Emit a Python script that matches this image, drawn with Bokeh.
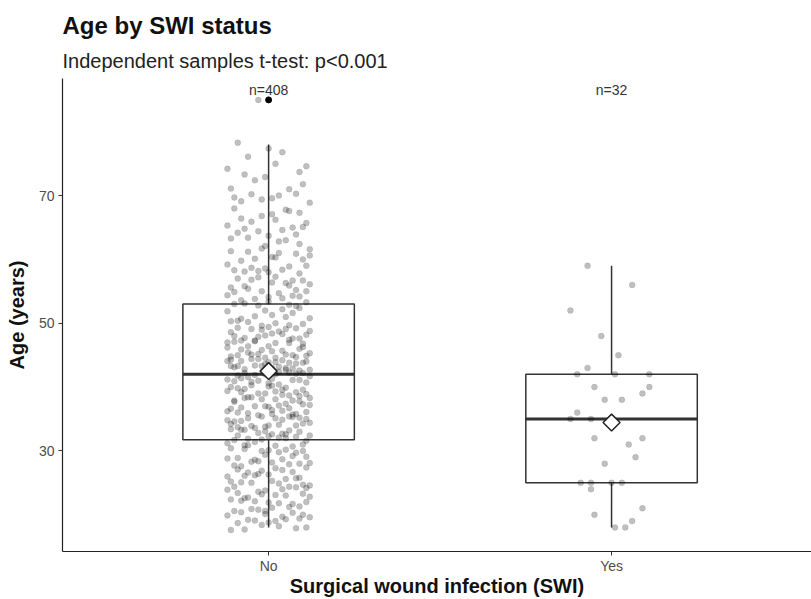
import numpy as np
from bokeh.plotting import figure
from bokeh.models import Range1d, FixedTicker, Label, Title
from bokeh.embed import file_html
from bokeh.resources import INLINE

# ---------------- data ----------------
categories = ["No", "Yes"]
group_pos = [1, 2]
y_ticks = [30, 50, 70]
title_text = "Age by SWI status"
subtitle_text = "Independent samples t-test: p<0.001"

# ages (years) of the SWI = No group
no_age = [
    18, 18, 18, 18, 18, 18,
    19, 19, 19, 19, 19, 19, 19,
    20, 20, 20, 20, 20, 20, 20,
    21, 21, 21, 21, 21, 21, 21,
    22, 22, 22, 22, 22, 22, 22,
    23, 23, 23, 23, 23, 23, 23, 23,
    24, 24, 24, 24, 24, 24, 24, 24,
    25, 25, 25, 25, 25, 25, 25,
    26, 26, 26, 26, 26, 26, 26, 26,
    27, 27, 27, 27, 27, 27, 27,
    28, 28, 28, 28, 28, 28, 28, 28,
    29, 29, 29, 29, 29, 29, 29,
    30, 30, 30, 30, 30, 30, 30, 30,
    31, 31, 31, 31, 31, 31, 31,
    32, 32, 32, 32, 32, 32, 32, 32, 32, 32,
    33, 33, 33, 33, 33, 33, 33, 33, 33, 33,
    34, 34, 34, 34, 34, 34, 34, 34, 34, 34,
    35, 35, 35, 35, 35, 35, 35, 35, 35, 35, 35,
    36, 36, 36, 36, 36, 36, 36, 36, 36, 36,
    37, 37, 37, 37, 37, 37, 37, 37, 37, 37,
    38, 38, 38, 38, 38, 38, 38, 38, 38, 38,
    39, 39, 39, 39, 39, 39, 39, 39, 39, 39,
    40, 40, 40, 40, 40, 40, 40, 40, 40, 40,
    41, 41, 41, 41, 41, 41, 41, 41, 41, 41,
    42, 42, 42, 42, 42, 42, 42, 42, 42, 42, 42,
    43, 43, 43, 43, 43, 43, 43, 43, 43, 43, 43, 43, 43,
    44, 44, 44, 44, 44, 44, 44, 44, 44, 44, 44, 44, 44,
    45, 45, 45, 45, 45, 45, 45, 45, 45, 45, 45, 45,
    46, 46, 46, 46, 46, 46, 46, 46, 46,
    47, 47, 47, 47, 47, 47, 47, 47, 47,
    48, 48, 48, 48, 48, 48, 48, 48, 48,
    49, 49, 49, 49, 49, 49, 49, 49, 49,
    50, 50, 50, 50, 50, 50, 50,
    51, 51, 51, 51, 51,
    52, 52, 52, 52, 52,
    53, 53, 53, 53, 53, 53, 53,
    54, 54, 54, 54, 54, 54, 54,
    55, 55, 55, 55, 55, 55,
    56, 56, 56, 56, 56, 56,
    57, 57, 57, 57, 57, 57,
    58, 58, 58, 58, 58, 58,
    59, 59, 59, 59, 59,
    60, 60, 60, 60, 60,
    61, 61, 61, 61, 61,
    62, 62, 62, 62,
    63, 63, 63, 63,
    64, 64, 64, 64,
    65, 65, 65, 65, 65,
    66, 66, 66, 66,
    67, 67, 67,
    68, 68, 68,
    69, 69, 69,
    70, 70, 70, 70, 70,
    71, 71, 72, 72, 73, 73, 74, 74, 75, 75,
    76, 77, 77, 78, 85,
]

# horizontal jitter of each No point (hundredths of a category width)
no_jitter = [
    3, -7, 11, -2, 8, -11, 5, -4, 0, 9, -9, 2, -6, 12, -1, 7, -12, 4, -8, 10, -3, 6, -10, 1,
    -5, 9, -1, 11, -8, 3, -11, 7, -4, 0, 10, -7, 5, -2, 12, -9, 2, -6, 8, -12, 4, -3, 11, -10,
    6, -1, -8, 10, 1, -5, 12, -11, 3, -3, 8, -7, 0, 9, -12, 5, -4, 11, -2, 7, -9, 2, -6, 4,
    -10, 12, -3, 6, -8, 1, 9, -5, -12, 11, -1, 4, -9, 7, -4, 10, -7, 0, 3, -11, 8, -2, 5, -6,
    10, -4, 2, -12, 7, -7, 0, 11, -9, 5, -2, 8, -10, 3, 12, -6, 1, -8, 9, -3, 6, -11, 4, -1,
    -7, 5, -11, 8, -1, 12, -5, 3, -9, 10, 0, -4, 6, -12, 2, 9, -8, 11, -2, 4, -10, 7, -6, 1,
    8, -9, 4, -3, 11, -6, 1, -12, 7, -1, 10, -8, 3, 5, -11, 0, 12, -4, 6, -7, 2, 9, -5, -10,
    -2, 7, -10, 12, -6, 4, -1, 9, -8, 2, 11, -12, 6, -3, 8, -9, 0, 10, -5, 3, -11, 5, -7, 1,
    4, -12, 9, -5, 1, -8, 11, -3, 7, -10, 0, 6, -7, 12, -1, 3, -9, 8, -4, 10, -6, 2, -11, 5,
    -9, 1, 7, -4, 12, -10, 3, -7, 9, -2, 5, -12, 10, -5, 0, 8, -11, 4, -1, 11, -8, 6, -3, 2,
    11, -6, -1, 5, -9, 8, -3, 12, -11, 2, -5, 7, 0, -8, 10, -2, 4, -12, 9, -6, 1, -10, 6, -4,
    -4, 10, -8, 2, 6, -12, 9, -1, 4, -7, 11, -3, -10, 7, 1, -5, 12, -9, 3, -2, 8, -11, 5, 0,
    2, -11, 6, -6, 10, -2, -9, 5, 12, -4, 1, -8, 9, -12, 4, -1, 7, -7, 11, -3, 0, 6, -10, 8,
    -12, 4, 9, -8, 0, 7, -4, 11, -6, 3, -10, 8, -2, 5, -11, 12, -7, 1, 6, -3, 10, -9, 2, -5,
    7, -3, 0, -10, 9, -7, 4, -1, 11, -12, 6, -5, 2, 10, -8, 1, -4, 12, -6, 8, -11, 3, -2, 9,
    -1, 12, -6, 3, -11, 5, 8, -9, 0, -3, 10, -7, 4, -12, 7, 2, -5, 11, -8, 1, -2, 9, -10, 6,
    5, -8, 12, -2, 3, -10, -5, 8, 1, -11, 6, -4, 10, -1, -7, 9, -12, 2, 11, -6, 0, 4, -9, -3,
]

# vertical jitter of each No point (tenths of a year)
no_yjitter = [
    2, -3, 0, 4, -1, -4, 3, 1, -2, 4, -3, 0, 2, -4, 1, 3, -1, -3, 4, 0, -2, 2, -4, 1,
    -1, 3, -4, 0, 2, -2, 4, -3, 1, -1, 3, -4, 0, 2, -2, 4, 1, -3, 3, -1, 0, -4, 2, 4,
    4, -2, 1, -3, 3, 0, -4, 2, -1, 4, -3, 1, 3, -2, 0, -4, 2, 4, -1, -3, 1, 3, -4, 0,
    -3, 1, 4, -1, -4, 2, 0, 3, -2, 1, 4, -3, -1, 2, -4, 0, 3, 1, -2, 4, -3, 0, 2, -1,
    0, 4, -2, 2, -3, -1, 3, -4, 4, 0, -2, 2, -3, 1, 4, -1, -4, 3, 0, -2, 2, 4, -3, 1,
    3, -4, 2, 0, -2, 4, -1, 1, -3, 3, 0, -4, 4, -2, 1, 2, -3, 0, 4, -1, -4, 3, 1, -2,
    -2, 0, 3, -4, 1, -1, 4, 2, -3, 0, 3, -2, 1, 4, -4, -1, 2, 0, -3, 3, 1, -2, 4, -1,
    1, -1, -3, 3, 4, -2, 0, -4, 2, 3, -1, 4, -3, 0, 2, -2, 1, -4, 3, 4, 0, -1, -3, 2,
    -4, 2, 1, -2, 3, 4, -3, 0, 1, -1, -4, 3, 2, -3, 0, 4, -2, 1, -1, 2, -4, 0, 3, -3,
    3, 0, -1, 4, -3, 1, 2, -2, -4, 3, 0, 1, -2, 4, -1, -3, 3, 2, -4, 0, 1, -2, 4, -1,
    -1, 4, -4, 1, 0, -3, 2, 3, -2, -4, 1, 0, 4, -1, 3, -2, -3, 2, 0, 4, -4, 1, -1, 3,
    2, -2, 3, -1, 4, 0, -4, 1, 3, -3, 2, -1, 0, -4, 4, 1, -2, 3, -3, 0, 2, -4, 1, 4,
    0, 3, -3, 2, -1, -4, 4, 0, -2, 1, 3, -3, 4, -1, 2, 0, -4, 1, 3, -2, 4, -1, 0, -3,
    4, -1, 2, -4, 1, 3, -2, 0, 4, -3, -1, 2, 0, 3, -4, 1, -2, 4, -1, 2, -3, 0, 3, -2,
    -3, 2, 0, 3, -2, 1, 4, -4, 0, 2, -1, -3, 3, 0, -2, 4, 1, -4, 2, -1, 3, 0, -3, 4,
    1, -4, 4, -2, 3, 0, -1, 2, -3, 4, 1, -2, -4, 3, 0, 2, -1, -3, 4, 1, -2, 3, 0, -4,
    -2, 1, -1, 4, 0, -3, 2, 3, -4, 1, 0, 4, -2, -1, 3, -3, 2, 0, -4, 1, 4, -2, 3, 0,
]

# ages (years) of the SWI = Yes group
yes_age = [56, 52, 48, 45, 43, 42, 42, 42, 40, 40, 39, 38, 38, 36, 35, 35,
           32, 32, 31, 29, 25, 25, 24, 25, 25, 20, 21, 19, 18, 18, 59, 28]
yes_jitter = [6, -12, -3, 2, -7, -10, 1, 11, -5, 11, 9, -2, 3, -10, -12, -6,
              -5, 9, 5, 7, -9, -6, -6, 0, 3, -5, 9, 6, 4, 1, -7, -2]
yes_yjitter = []  # Yes points were read at their drawn heights

groups = [(no_age, no_jitter, no_yjitter), (yes_age, yes_jitter, yes_yjitter)]

# ---------------- figure ----------------
FONT = "Liberation Sans"
p = figure(width=811, height=599, output_backend="svg", toolbar_location=None,
           x_range=Range1d(0.399, 2.583), y_range=Range1d(14.24, 88.35),
           min_border_left=62, min_border_right=0, min_border_top=78,
           min_border_bottom=48, title=title_text)
p.title.text_font = FONT
p.title.text_font_size = "24px"
p.title.text_font_style = "bold"
p.title.text_color = "#111111"
p.title.align = "left"
p.title.standoff = 3
p.add_layout(Title(text=subtitle_text, text_font=FONT, text_font_size="20px",
                   text_font_style="normal", text_color="#222222", align="left",
                   standoff=14), "above")
p.outline_line_color = None
p.xgrid.visible = False
p.ygrid.visible = False
p.background_fill_color = "white"
p.border_fill_color = "white"

box_half = 0.25
for pos, (ages, jit, yjit) in zip(group_pos, groups):
    a = np.array(ages, dtype=float)
    q1, med, q3 = np.percentile(a, [25, 50, 75])
    iqr = q3 - q1
    inside = a[(a >= q1 - 1.5 * iqr) & (a <= q3 + 1.5 * iqr)]
    lo, hi = inside.min(), inside.max()
    outl = a[(a < q1 - 1.5 * iqr) | (a > q3 + 1.5 * iqr)]

    p.segment(x0=[pos, pos], y0=[q3, q1], x1=[pos, pos], y1=[hi, lo],
              line_color="#333333", line_width=1.5)
    p.quad(left=[pos - box_half], right=[pos + box_half], bottom=[q1], top=[q3],
           fill_color=None, line_color="#333333", line_width=1.5)
    p.segment(x0=[pos - box_half], y0=[med], x1=[pos + box_half], y1=[med],
              line_color="#333333", line_width=3)
    if len(outl):
        p.scatter(x=[pos] * len(outl), y=list(outl), size=6, fill_color="black",
                  line_color="black")

    xs = [pos + j / 100.0 for j in jit]
    ys = [v + (yjit[i] / 10.0 if i < len(yjit) else 0.0) for i, v in enumerate(ages)]
    n = min(len(xs), len(ys))
    p.scatter(x=xs[:n], y=ys[:n], size=6, fill_color="black",
              fill_alpha=0.25, line_color="black", line_alpha=0.08)

    p.scatter(x=[pos], y=[a.mean()], marker="square", angle=np.pi / 4, size=12,
              fill_color="white", line_color="#222222", line_width=1.5)

    p.add_layout(Label(x=pos, y=86.47, text=f"n={len(ages)}", text_align="center",
                       text_baseline="middle", text_font=FONT, text_font_size="14px",
                       text_color="#333333"))

# axes
p.xaxis.ticker = FixedTicker(ticks=group_pos)
p.xaxis.major_label_overrides = {pos: lab for pos, lab in zip(group_pos, categories)}
p.yaxis.ticker = FixedTicker(ticks=y_ticks)
p.xaxis.axis_label = "Surgical wound infection (SWI)"
p.yaxis.axis_label = "Age (years)"
for ax in (p.xaxis[0], p.yaxis[0]):
    ax.axis_line_color = "#222222"
    ax.axis_line_width = 1.2
    ax.major_tick_line_color = "#333333"
    ax.major_tick_out = 4
    ax.major_tick_in = 0
    ax.minor_tick_line_color = None
    ax.major_label_text_font = FONT
    ax.major_label_text_font_size = "14px"
    ax.major_label_text_color = "#4d4d4d"
    ax.axis_label_text_font = FONT
    ax.axis_label_text_font_size = "20px"
    ax.axis_label_text_font_style = "bold"
    ax.axis_label_text_color = "#111111"
p.xaxis.major_label_standoff = 2
p.xaxis.axis_label_standoff = -2
p.yaxis.major_label_standoff = 4
p.yaxis.axis_label_standoff = 8

open("out.html", "w").write(file_html(p, INLINE))
